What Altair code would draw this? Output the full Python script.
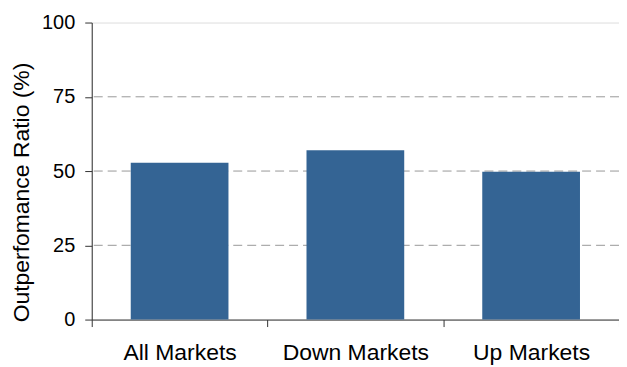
import altair as alt
import pandas as pd

categories = ["All Markets", "Down Markets", "Up Markets"]
values = [52.8, 57.0, 49.8]
grid_values = [25, 50, 75]
y_ticks = [0, 25, 50, 75, 100]

bars_df = pd.DataFrame({"market": categories, "ratio": values})
grid_df = pd.DataFrame({"g": grid_values})

FONT = "Liberation Sans"

y_scale = alt.Scale(domain=[0, 100], nice=False)

y_axis = alt.Axis(
    title="Outperfomance Ratio (%)",
    titleFont=FONT,
    titleFontSize=23,
    titleFontWeight="normal",
    titleColor="#000000",
    titleX=-70,
    titleY=170,
    titleBaseline="middle",
    titleAlign="center",
    titleAngle=270,
    values=y_ticks,
    labelFont=FONT,
    labelFontSize=20,
    labelColor="#000000",
    labelPadding=10,
    tickSize=7,
    tickColor="#333333",
    domainColor="#333333",
    grid=False,
)

grid = alt.Chart(grid_df).mark_rule(color="#999999", strokeWidth=1, strokeDash=[9, 5]).encode(
    y=alt.Y("g:Q", scale=y_scale, axis=y_axis, title="Outperfomance Ratio (%)")
)

bars = alt.Chart(bars_df).mark_bar(color="#346494", width=alt.RelativeBandSize(0.556)).encode(
    x=alt.X(
        "market:N",
        sort=categories,
        scale=alt.Scale(paddingInner=0, paddingOuter=0),
        axis=alt.Axis(
            title=None,
            labelAngle=0,
            labelFont=FONT,
            labelFontSize=23,
            labelColor="#000000",
            labelPadding=15,
            tickBand="extent",
            tickSize=7,
            tickColor="#333333",
            domainColor="#333333",
            grid=False,
        ),
    ),
    y=alt.Y("ratio:Q", scale=y_scale, axis=y_axis, title="Outperfomance Ratio (%)"),
)

chart = (
    alt.layer(grid, bars)
    .properties(
        width=529,
        height=298,
        autosize=alt.AutoSizeParams(type="none"),
        padding={"left": 84, "top": 14, "right": 0, "bottom": 45},
    )
    .configure_view(stroke="#c8c8c8", strokeWidth=1)
    .configure(background="white")
)

chart.save("out.html", embed_options={"renderer": "svg", "actions": False})
